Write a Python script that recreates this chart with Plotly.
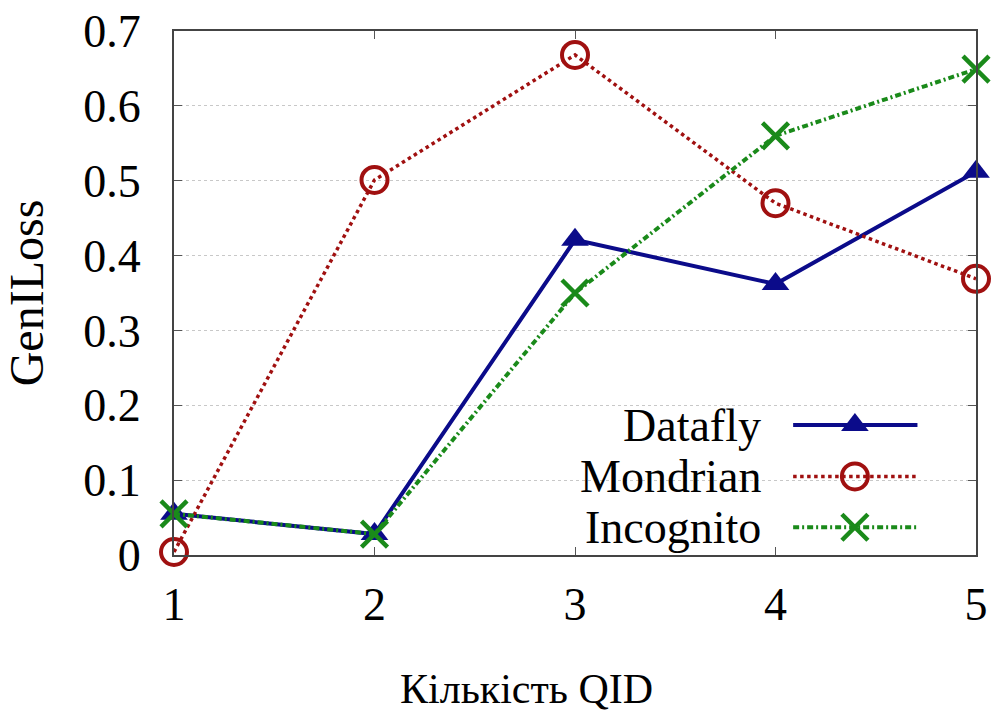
import plotly.graph_objects as go

qid = [1, 2, 3, 4, 5]
datafly = [0.055, 0.028, 0.421, 0.362, 0.512]
mondrian = [0.004, 0.501, 0.668, 0.470, 0.369]
incognito = [0.055, 0.028, 0.350, 0.560, 0.649]
yticks = [0, 0.1, 0.2, 0.3, 0.4, 0.5, 0.6, 0.7]
ytick_text = ["0", "0.1", "0.2", "0.3", "0.4", "0.5", "0.6", "0.7"]
names = ["Datafly", "Mondrian", "Incognito"]

C_D = "#0b0b8a"
C_M = "#a01010"
C_I = "#1a8a1a"
FONT = "Liberation Serif, Times New Roman, serif"

styles = {
    "Datafly": dict(line=dict(color=C_D, width=4, dash="solid"),
                    marker=dict(symbol="triangle-up", size=24, color=C_D)),
    "Mondrian": dict(line=dict(color=C_M, width=3.5, dash="dot"),
                     marker=dict(symbol="circle-open", size=26, color=C_M, line=dict(width=4, color=C_M))),
    "Incognito": dict(line=dict(color=C_I, width=4, dash="6px,3px,2px,3px"),
                      marker=dict(symbol="x-thin-open", size=26, color=C_I, line=dict(width=4.5, color=C_I))),
}
series = {"Datafly": datafly, "Mondrian": mondrian, "Incognito": incognito}

fig = go.Figure()
for n in names:
    fig.add_trace(go.Scatter(x=qid, y=series[n], mode="lines+markers", name=n,
                             showlegend=False, cliponaxis=False, **styles[n]))

# custom legend (text left, sample right) on an overlay axis
leg_y = [0.248, 0.150, 0.053]
for n, ly in zip(names, leg_y):
    fig.add_trace(go.Scatter(x=[0.772, 0.927], y=[ly, ly], mode="lines", xaxis="x2", yaxis="y2",
                             line=styles[n]["line"], showlegend=False, hoverinfo="skip"))
    fig.add_trace(go.Scatter(x=[0.849], y=[ly], mode="markers", xaxis="x2", yaxis="y2",
                             marker=styles[n]["marker"], showlegend=False, hoverinfo="skip"))
    fig.add_annotation(x=0.734, y=ly, xref="paper", yref="paper", text=n, showarrow=False,
                       xanchor="right", yanchor="middle", font=dict(family=FONT, size=46, color="black"))

fig.add_annotation(x=0.44, y=-0.255, xref="paper", yref="paper", text="Кількість QID",
                   showarrow=False, xanchor="center", yanchor="middle",
                   font=dict(family=FONT, size=42, color="black"))

fig.update_layout(
    width=991, height=711,
    margin=dict(l=174, r=15, t=31, b=156),
    paper_bgcolor="white", plot_bgcolor="white",
    font=dict(family=FONT, color="black"),
    xaxis=dict(range=[1, 5], tickvals=qid, ticktext=[str(v) for v in qid],
               tickfont=dict(family=FONT, size=46), ticks="inside", ticklen=8, tickcolor="#555",
               showline=True, linecolor="#444", linewidth=2, mirror="ticks",
               showgrid=False, zeroline=False, automargin=False, ticklabelstandoff=8),
    yaxis=dict(range=[0, 0.7], tickvals=yticks, ticktext=ytick_text,
               tickfont=dict(family=FONT, size=46), ticks="inside", ticklen=8, tickcolor="#555",
               showline=True, linecolor="#444", linewidth=2, mirror="ticks",
               showgrid=True, gridcolor="#c8c8c8", griddash="dot", gridwidth=1,
               zeroline=False, automargin=False, ticklabelstandoff=22,
               title=dict(text="GenILoss", font=dict(family=FONT, size=48), standoff=25)),
    xaxis2=dict(range=[0, 1], overlaying="x", visible=False, fixedrange=True),
    yaxis2=dict(range=[0, 1], overlaying="y", visible=False, fixedrange=True),
)

fig.write_html("out.html")
